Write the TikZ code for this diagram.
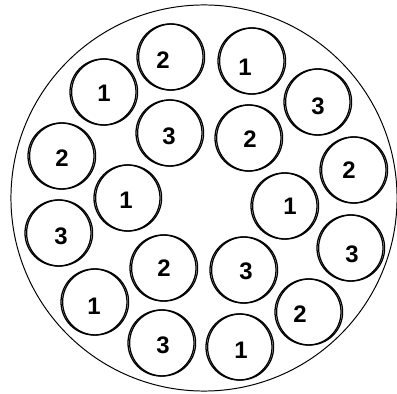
\documentclass[tikz,border=0pt]{standalone}
\usepackage{fontspec}
\setsansfont{Liberation Sans}
\tikzset{
  rod/.style={circle, draw, line width=0.9pt, minimum size=1.65cm, inner sep=0pt},
  rodedge/.style={line width=0.9pt},
  tag/.style={font=\sffamily\bfseries\fontsize{17}{19}\selectfont, inner sep=0pt},
}
\begin{document}
\begin{tikzpicture}[x=0.025cm,y=-0.025cm]
\useasboundingbox (0,0) rectangle (397,394);
% outer casing
\node[circle, draw, line width=0.7pt, minimum size=9.65cm, inner sep=0pt] (drum) at (204,198) {};
% rods: number / centre / label / digit
\foreach \i/\x/\y/\lx/\ly/\n in {
  1/170/57/163/60/2, 2/103/92/104/93/1, 3/169/133/169/136/3,
  4/61/156/62/158/2, 5/251/61/245/67/1, 6/317/102/318/106/3,
  7/248/138/250/139/2, 8/353/170/349/170/2, 9/127/198/126/200/1,
  10/58/233/61/236/3, 11/163/268/164/268/2, 12/94/302/94/306/1,
  13/161/343/163/345/3, 14/284/206/290/206/1, 15/350/248/352/254/3,
  16/243/270/246/271/3, 17/308/312/300/314/2, 18/239/347/241/350/1} {
  \node[rod] (c\i) at (\x,\y) {};
  \draw[rodedge] ([xshift=0.04cm]c\i.center) circle[radius=0.825cm];
  \node[tag] (n\i) at (\lx,\ly) {\n};
}
\end{tikzpicture}
\end{document}
